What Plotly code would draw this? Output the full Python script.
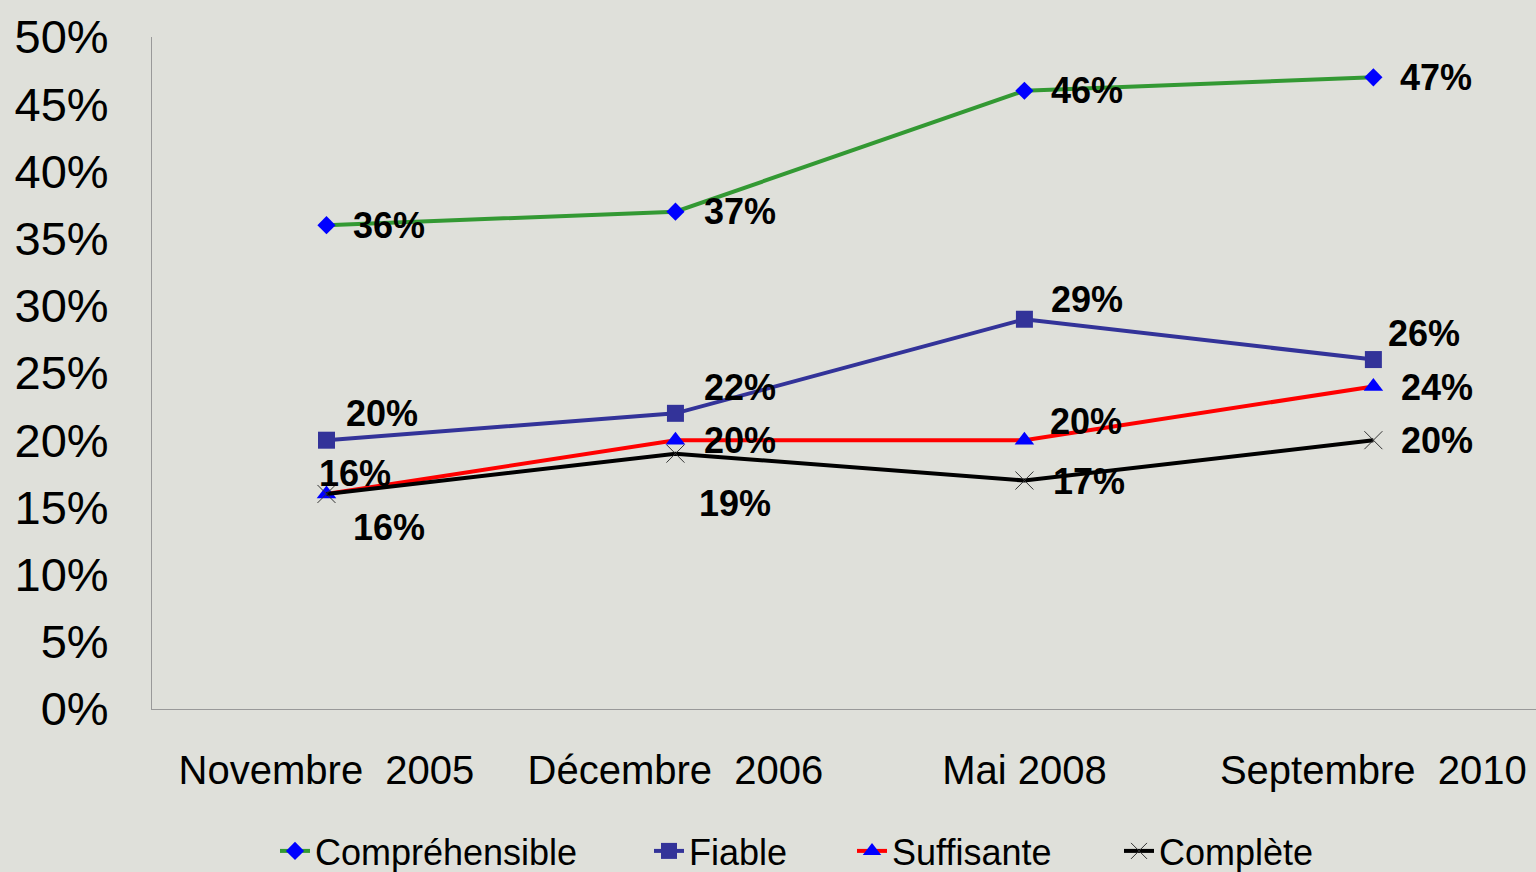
import plotly.graph_objects as go

categories = ["Novembre  2005", "Décembre  2006", "Mai 2008", "Septembre  2010"]
comprehensible = [0.36, 0.37, 0.46, 0.47]
fiable = [0.20, 0.22, 0.29, 0.26]
suffisante = [0.16, 0.20, 0.20, 0.24]
complete = [0.16, 0.19, 0.17, 0.20]
series_names = ["Compréhensible", "Fiable", "Suffisante", "Complète"]
y_ticks = [0, 0.05, 0.10, 0.15, 0.20, 0.25, 0.30, 0.35, 0.40, 0.45, 0.50]

# label offsets (pixels, x right / y up) per series per point
label_offsets = [
    [(25, 0), (27, 0), (25, 0), (25, 0)],
    [(18, 27), (27, 26), (25, 20), (13, 26)],
    [(-9, 20), (27, 0), (24, 19), (26, -1)],
    [(25, -34), (22, -50), (27, -1), (26, 0)],
]
# legend entry left positions (pixels)
legend_x_px = [275, 649, 852, 1119]

BG = "#dfe0da"
FONT = "Liberation Sans, Arial, sans-serif"
W, H = 1536, 872

styles = [
    dict(line=dict(color="#339933", width=4), marker=dict(symbol="diamond", color="#0000ff", size=14)),
    dict(line=dict(color="#333399", width=4), marker=dict(symbol="square", color="#333399", size=17)),
    dict(line=dict(color="#ff0000", width=4), marker=dict(symbol="triangle-up", color="#0000ff", size=17)),
    dict(line=dict(color="#000000", width=4),
         marker=dict(symbol="x-thin", color="#000000", size=18, line=dict(color="#333333", width=1))),
]

data = [comprehensible, fiable, suffisante, complete]
legend_ids = ["legend", "legend2", "legend3", "legend4"]

fig = go.Figure()
annotations = []
for name, vals, st, offs, lid in zip(series_names, data, styles, label_offsets, legend_ids):
    fig.add_trace(go.Scatter(x=categories, y=vals, mode="lines+markers", name=name,
                             line=st["line"], marker=st["marker"], legend=lid))
    for c, v, (dx, dy) in zip(categories, vals, offs):
        annotations.append(dict(x=c, y=v, xref="x", yref="y", text=f"{round(v*100)}%",
                                showarrow=False, xanchor="left", yanchor="middle",
                                xshift=dx, yshift=dy,
                                font=dict(family=FONT, size=36, color="#000000", weight="bold")))

legend_layout = {}
for lid, px in zip(legend_ids, legend_x_px):
    legend_layout[lid] = dict(orientation="h", xref="container", yref="container",
                              x=px / W, y=(H - 851) / H, xanchor="left", yanchor="middle",
                              font=dict(family=FONT, size=36, color="#000000"),
                              bgcolor="rgba(0,0,0,0)")

fig.update_layout(
    width=W, height=H,
    paper_bgcolor=BG, plot_bgcolor=BG,
    margin=dict(l=152, r=0, t=37, b=163),
    font=dict(family=FONT, color="#000000"),
    annotations=annotations,
    showlegend=True,
    **legend_layout,
)
fig.update_xaxes(type="category", range=[-0.5, 3.466], showgrid=False, zeroline=False,
                 showline=True, linecolor="#999999", linewidth=1, ticks="",
                 tickfont=dict(family=FONT, size=40, color="#000000"), ticklabelstandoff=26)
fig.update_yaxes(range=[0, 0.5], tickvals=y_ticks, tickformat=".0%", showgrid=False,
                 zeroline=False, showline=True, linecolor="#999999", linewidth=1, ticks="",
                 tickfont=dict(family=FONT, size=47, color="#000000"), ticklabelstandoff=33)

fig.write_html("out.html", config={"displayModeBar": False},
               post_script="document.body.style.margin='0';document.body.style.overflow='hidden';")
